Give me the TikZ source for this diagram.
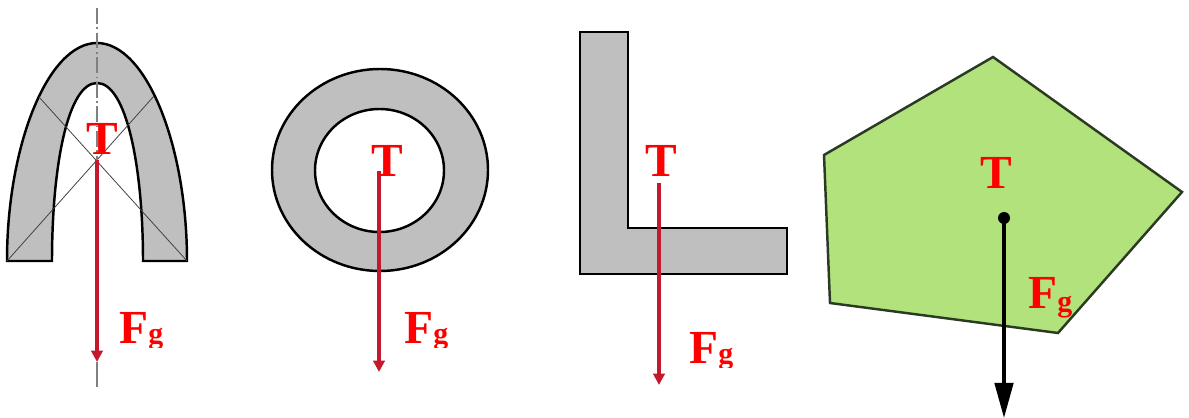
\documentclass[tikz,border=0pt]{standalone}
\usepackage{fontspec}
\setmainfont{Liberation Serif}
\definecolor{plate}{HTML}{BFBFBF}
\definecolor{leaf}{HTML}{B2E27C}
\definecolor{rim}{HTML}{2B3A22}
\definecolor{force}{HTML}{C4182C}
\usetikzlibrary{arrows.meta}
\tikzset{
  section/.style={draw=black, fill=plate, line width=1.4pt},
  thinline/.style={black!75, line width=0.45pt},
  axisline/.style={gray, line width=1pt},
  redarrow/.style={force, line width=2pt, -{Triangle[length=6.5pt, width=6.5pt]}},
  tlabel/.style={red, font=\fontsize{27}{27}\selectfont\bfseries, inner sep=0pt},
  flabel/.style={tlabel, anchor=base west},
}
\newcommand{\fglabel}[1][0pt]{F\raisebox{#1}{\fontsize{17}{17}\selectfont g}}
\begin{document}
\begin{tikzpicture}[x=0.02cm, y=-0.02cm]
  \useasboundingbox (0,0) rectangle (1189,418);
  % arch
  \draw[section] (7,261) .. controls (7,145) and (48,43) .. (97,43)
    .. controls (146,43) and (187,145) .. (187,261) -- (143,261)
    .. controls (143,165) and (126,83) .. (97,83)
    .. controls (68,83) and (52,165) .. (52,261) -- cycle;
  \coordinate (archtop) at (97,8);
  \coordinate (archend) at (97,387);
  \coordinate (archT) at (97,160);
  \coordinate (archF) at (97,362);
  \coordinate (archa) at (7,261);
  \coordinate (archb) at (187,261);
  \coordinate (archc) at (39,97);
  \coordinate (archd) at (154,96);
  \draw[thinline] (archa) -- (archd);
  \draw[thinline] (archb) -- (archc);
  \draw[axisline, dash pattern=on 9pt off 2pt on 1pt off 2pt] (archtop) -- (archT);
  \draw[axisline] (archF) -- (archend);
  \draw[redarrow] (archT) -- (archF);
  \node[tlabel] (archTl) at (102.5,139) {T};
  % ring
  \draw[section, even odd rule] (380,170) ellipse [x radius=108, y radius=101]
    (379.5,170.5) ellipse [x radius=64.5, y radius=61.5];
  \coordinate (ringT) at (379,171);
  \coordinate (ringF) at (379,372);
  \draw[redarrow] (ringT) -- (ringF);
  \node[tlabel] (ringTl) at (387,161) {T};
  % the g is cut off at its foot
  \begin{scope}
    \clip (100,300) rectangle (500,347);
    \node[flabel] (archFl) at (119,343) {\fglabel};
    \node[flabel] (ringFl) at (404,343) {\fglabel};
  \end{scope}
  % angle
  \draw[section] (580,32) -- (628,32) -- (628,228) -- (787,228) -- (787,274)
    -- (580,274) -- cycle;
  \coordinate (angleT) at (659,183);
  \coordinate (angleF) at (659,385);
  \draw[redarrow] (angleT) -- (angleF);
  \node[tlabel] (angleTl) at (661,161) {T};
  \begin{scope}
    \clip (680,320) rectangle (760,367);
    \node[flabel] (angleFl) at (689,363) {\fglabel};
  \end{scope}
  % pentagon
  \draw[fill=leaf, draw=rim, line width=1.4pt] (993,57) -- (1182,192) -- (1058,333)
    -- (830,303) -- (824,155) -- cycle;
  \coordinate (pentT) at (1004,218);
  \coordinate (pentF) at (1004,418);
  \fill[black] (pentT) circle (6);
  \draw[black, line width=2pt, -{Triangle[length=20pt, width=10.5pt]}] (pentT) -- (pentF);
  \node[tlabel] (pentTl) at (996,173) {T};
  \node[flabel] (pentFl) at (1028,309) {\fglabel[-1.5pt]};
\end{tikzpicture}
\end{document}
